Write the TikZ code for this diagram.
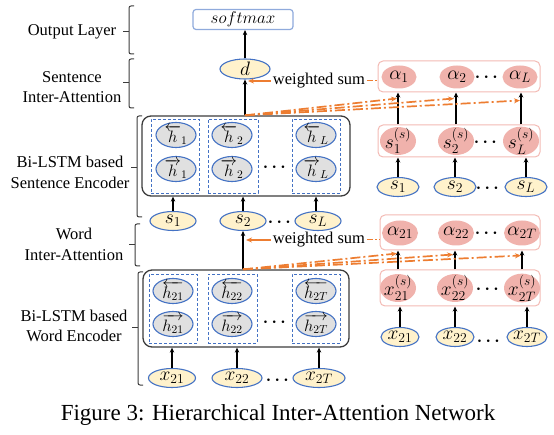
\RequirePackage{fix-cm}
\documentclass[tikz,border=0pt]{standalone}
\usepackage{amsmath}
\usepackage{fontspec}
\setmainfont{Liberation Serif}
\usetikzlibrary{shapes.geometric,arrows.meta,calc}
\definecolor{yfill}{RGB}{255,242,204}
\definecolor{eblue}{RGB}{68,114,196}
\definecolor{gfill}{RGB}{224,224,224}
\definecolor{dgray}{RGB}{60,60,60}
\definecolor{pfill}{RGB}{240,178,172}
\definecolor{pborder}{RGB}{243,186,180}
\definecolor{sborder}{RGB}{143,170,220}
\definecolor{orng}{RGB}{237,125,49}
\newcommand\mybrk[4]{\draw[brk] (#1+5,#2) -- (#1,#2) -- (#1,#3) -- (#1+5,#3); \draw[brk] (#1,#4) -- (#1-6,#4);}
\begin{document}
\begin{tikzpicture}[x=1pt,y=-1pt,
  mf/.style={font=\fontsize{19.5}{22}\selectfont},
  lbl/.style={font=\fontsize{16.5}{20.5}\selectfont, align=center, inner sep=2pt},
  yel/.style={ellipse, draw=eblue, fill=yfill, line width=1.1pt, inner sep=-2pt, minimum width=46, minimum height=19, mf},
  gry/.style={ellipse, draw=eblue, fill=gfill, line width=1.1pt, inner sep=-4pt, minimum width=40, minimum height=25, font=\fontsize{16.5}{19}\selectfont},
  pnk/.style={ellipse, fill=pfill, inner sep=-3pt, minimum width=36, minimum height=25, mf},
  dbox/.style={draw=eblue, dashed, line width=0.9pt, dash pattern=on 3pt off 2pt, inner sep=0pt},
  encbox/.style={draw=dgray, rounded corners=9pt, line width=1.3pt, inner sep=0pt},
  pbox/.style={draw=pborder, rounded corners=5pt, line width=1pt, fill=white, inner sep=0pt},
  smbox/.style={draw=sborder, rounded corners=3pt, line width=1.2pt, fill=white, inner sep=0pt, minimum width=100, minimum height=20, font=\fontsize{17}{19}\selectfont},
  arr/.style={-{Stealth[length=5pt,width=4.5pt]}, line width=1.3pt, black},
  oarr/.style={-{Stealth[length=6pt,width=5pt]}, line width=1.7pt, orng, dash pattern=on 10pt off 3pt on 2pt off 3pt},
  osolid/.style={-{Stealth[length=6pt,width=5pt]}, line width=1.5pt, orng},
  othin/.style={line width=1pt, orng, dash pattern=on 6pt off 2pt on 1.5pt off 2pt},
  brk/.style={draw=dgray, line width=1pt, rounded corners=2pt},
  dts/.style={font=\fontsize{17}{19}\selectfont, inner sep=0pt}
]
\useasboundingbox (0,0) rectangle (554,435);

% ---------- left labels and brackets
\node[lbl] (lOut) at (72,32) {Output Layer};
\node[lbl] (lSIA) at (72,87) {Sentence\\Inter-Attention};
\node[lbl] (lSE) at (70,172.5) {Bi-LSTM based\\Sentence Encoder};
\node[lbl] (lWIA) at (74,244.5) {Word\\Inter-Attention};
\node[lbl] (lWE) at (74,326) {Bi-LSTM based\\Word Encoder};
\mybrk{129}{6}{54}{32}
\mybrk{129}{59}{108}{83}
\mybrk{137}{116}{217}{168}
\mybrk{135}{224}{266}{245}
\mybrk{138}{272}{385}{328}

% ---------- output
\node[smbox] (soft) at (243,19.5) {$softmax$};
\node[yel, minimum width=50, minimum height=20] (d) at (245,69) {$d$};

% ---------- sentence encoder
\node[encbox, minimum width=208, minimum height=80] (encS) at (246,156) {};
\node[dbox, minimum width=48, minimum height=74] (dS1) at (175,156) {};
\node[dbox, minimum width=50, minimum height=74] (dS2) at (233,156) {};
\node[dbox, minimum width=48, minimum height=74] (dSL) at (316,156) {};
\node[gry] (hb1) at (176,135) {$\overleftarrow{h}_1$};
\node[gry] (hf1) at (176,169) {$\overrightarrow{h}_1$};
\node[gry] (hb2) at (232,135) {$\overleftarrow{h}_2$};
\node[gry] (hf2) at (232,169) {$\overrightarrow{h}_2$};
\node[gry] (hbL) at (316,135) {$\overleftarrow{h}_L$};
\node[gry] (hfL) at (316,169) {$\overrightarrow{h}_L$};
\node[dts] (dtS) at (276,167) {$\boldsymbol{\cdots}$};

\node[yel] (s1) at (173,221) {$s_1$};
\node[yel] (s2) at (243,221) {$s_2$};
\node[yel] (sL) at (318,221) {$s_L$};
\node[dts] (dtSr) at (281,222) {$\boldsymbol{\cdots}$};

% ---------- word encoder
\node[encbox, minimum width=206, minimum height=77] (encW) at (246,308.5) {};
\node[dbox, minimum width=48, minimum height=69] (dW1) at (173,308.5) {};
\node[dbox, minimum width=49, minimum height=69] (dW2) at (232.5,308.5) {};
\node[dbox, minimum width=48, minimum height=69] (dWT) at (316,308.5) {};
\node[gry] (hb21) at (173,291) {$\overleftarrow{h_{21}}$};
\node[gry] (hf21) at (173,324) {$\overrightarrow{h_{21}}$};
\node[gry] (hb22) at (232,291) {$\overleftarrow{h_{22}}$};
\node[gry] (hf22) at (232,324) {$\overrightarrow{h_{22}}$};
\node[gry] (hb2T) at (316,291) {$\overleftarrow{h_{2T}}$};
\node[gry] (hf2T) at (316,324) {$\overrightarrow{h_{2T}}$};
\node[dts] (dtW) at (276,322) {$\boldsymbol{\cdots}$};

\node[yel, minimum width=47] (x21) at (172,378) {$x_{21}$};
\node[yel, minimum width=50] (x22) at (237,378) {$x_{22}$};
\node[yel, minimum width=52] (x2T) at (319,378) {$x_{2T}$};
\node[dts] (dtX) at (279,380) {$\boldsymbol{\cdots}$};

% ---------- right: sentence attention
\node[pbox, minimum width=162, minimum height=31] (aSbox) at (459,76.5) {};
\node[pnk, minimum width=35, minimum height=23] (a1) at (399,77) {$\alpha_1$};
\node[pnk, minimum width=35, minimum height=23] (a2) at (457,77) {$\alpha_2$};
\node[pnk, minimum width=35, minimum height=23] (aL) at (520,77) {$\alpha_L$};
\node[dts] (dtA) at (488,77) {$\boldsymbol{\cdots}$};

\node[pbox, minimum width=162, minimum height=32] (sSbox) at (459,141) {};
\node[pnk] (ss1) at (398,141) {$s_1^{(s)}$};
\node[pnk] (ss2) at (456,141) {$s_2^{(s)}$};
\node[pnk] (ssL) at (521,141) {$s_L^{(s)}$};
\node[dts] (dtSS) at (487,142) {$\boldsymbol{\cdots}$};

\node[yel, minimum width=42] (rs1) at (398,187) {$s_1$};
\node[yel, minimum width=42] (rs2) at (455,187) {$s_2$};
\node[yel, minimum width=42] (rsL) at (526,187) {$s_L$};
\node[dts] (dtRS) at (489,188) {$\boldsymbol{\cdots}$};

% ---------- right: word attention
\node[pbox, minimum width=160, minimum height=35] (aWbox) at (460,232.5) {};
\node[pnk] (a21) at (400,233) {$\alpha_{21}$};
\node[pnk] (a22) at (456,233) {$\alpha_{22}$};
\node[pnk] (a2T) at (522,233) {$\alpha_{2T}$};
\node[dts] (dtAW) at (488,233) {$\boldsymbol{\cdots}$};

\node[pbox, minimum width=160, minimum height=36] (xSbox) at (460,288) {};
\node[pnk] (xs21) at (398,288) {$x_{21}^{(s)}$};
\node[pnk] (xs22) at (455,288) {$x_{22}^{(s)}$};
\node[pnk] (xs2T) at (522,288) {$x_{2T}^{(s)}$};
\node[dts] (dtXS) at (489,289) {$\boldsymbol{\cdots}$};

\node[yel, minimum width=38] (rx21) at (400,337) {$x_{21}$};
\node[yel, minimum width=38] (rx22) at (455,337) {$x_{22}$};
\node[yel, minimum width=40] (rx2T) at (527,337) {$x_{2T}$};
\node[dts] (dtRX) at (490,341) {$\boldsymbol{\cdots}$};

% ---------- black arrows, main column
\draw[arr] (d.north) -- (d.north |- soft.south);
\draw[arr] (d.south |- encS.north) -- (d.south);
\draw[arr] (s1.north) -- (s1.north |- encS.south);
\draw[arr] (s2.north) -- (s2.north |- encS.south);
\draw[arr] ([xshift=-2pt]sL.north) -- ([xshift=-2pt]sL.north |- encS.south);
\draw[arr] (s2.south |- encW.north) -- (s2.south);
\draw[arr] (x21.north) -- (x21.north |- encW.south);
\draw[arr] (x22.north) -- (x22.north |- encW.south);
\draw[arr] (x2T.north) -- (x2T.north |- encW.south);

% ---------- black arrows, right column
\draw[arr] (rs1.north) -- (rs1.north |- sSbox.south);
\draw[arr] (rs2.north) -- (rs2.north |- sSbox.south);
\draw[arr] (rsL.north) -- (rsL.north |- sSbox.south);
\draw[arr] (ss1 |- sSbox.north) -- (ss1 |- aSbox.south);
\draw[arr] (ss2 |- sSbox.north) -- (ss2 |- aSbox.south);
\draw[arr] (ssL |- sSbox.north) -- (ssL |- aSbox.south);
\draw[arr] (rx21.north) -- (rx21.north |- xSbox.south);
\draw[arr] (rx22.north) -- (rx22.north |- xSbox.south);
\draw[arr] (rx2T.north) -- (rx2T.north |- xSbox.south);
\draw[arr] (xs21 |- xSbox.north) -- (xs21 |- aWbox.south);
\draw[arr] (xs22 |- xSbox.north) -- (xs22 |- aWbox.south);
\draw[arr] (xs2T |- xSbox.north) -- (xs2T |- aWbox.south);

% ---------- orange attention connectors
\coordinate (jS) at (d.south |- encS.north);
\coordinate (jW) at (s2.south |- encW.north);
\draw[oarr] (jS) -- ($(ss1 |- aSbox.south)+(-1,6)$);
\draw[oarr] (jS) -- ($(ss2 |- aSbox.south)+(-2,6)$);
\draw[oarr] (jS) -- ($(ssL |- aSbox.south)+(-1,8)$);
\draw[oarr] (jW) -- ($(xs21 |- aWbox.south)+(-1,3)$);
\draw[oarr] (jW) -- ($(xs22 |- aWbox.south)+(-2,4)$);
\draw[oarr] (jW) -- ($(xs2T |- aWbox.south)+(-1,5)$);

\node[lbl] (wsS) at (319,81) {weighted sum};
\draw[osolid] (wsS.west) -- ($(d.south |- wsS.west)+(3,0)$);
\draw[othin] (wsS.east) -- (wsS.east -| aSbox.west);
\node[lbl] (wsW) at (319,240) {weighted sum};
\draw[osolid] (wsW.west) -- ($(s2.south |- wsW.west)+(3,0)$);
\draw[othin] (wsW.east) -- (wsW.east -| aWbox.west);

% ---------- caption
\node[font=\fontsize{23}{27}\selectfont, inner sep=0pt] (cap) at (278,415) {Figure 3: Hierarchical Inter-Attention Network};
\end{tikzpicture}
\end{document}
